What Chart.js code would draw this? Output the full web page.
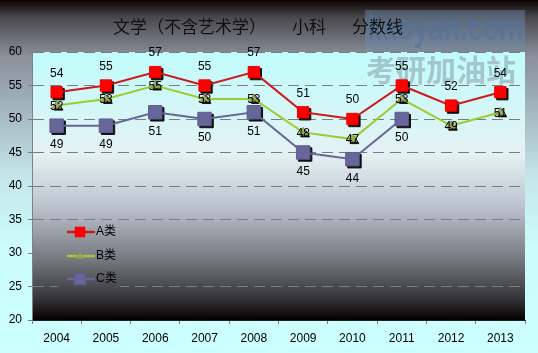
<!DOCTYPE html>
<html>
<head>
<meta charset="utf-8">
<script src="https://cdn.jsdelivr.net/npm/chart.js@4"></script>
<style>
  html, body { margin: 0; padding: 0; }
</style>
</head>
<body>
<canvas id="c" width="538" height="353"></canvas>
<script>
// 数据
const years = ['2004', '2005', '2006', '2007', '2008', '2009', '2010', '2011', '2012', '2013'];
const aScores = [54, 55, 57, 55, 57, 51, 50, 55, 52, 54];
const bScores = [52, 53, 55, 53, 53, 48, 47, 53, 49, 51];
const cScores = [49, 49, 51, 50, 51, 45, 44, 50, null, null];
const seriesNames = ['A类', 'B类', 'C类'];
const titleParts = ['文学（不含艺术学）', '小科', '分数线'];

const FONT = '"Liberation Sans", "Noto Sans CJK SC", sans-serif';
let plotGrad = null;

function makePlotGrad(ctx, area) {
  const g = ctx.createLinearGradient(0, area.top, 0, area.bottom);
  g.addColorStop(0, '#c0fcfc');
  g.addColorStop(0.38, '#e4f2f4');
  g.addColorStop(0.58, '#bcc2cc');
  g.addColorStop(0.78, '#74767e');
  g.addColorStop(0.92, '#343438');
  g.addColorStop(1, '#050000');
  return g;
}

// 背景
const bgPlugin = {
  id: 'bg',
  beforeDraw(chart) {
    const ctx = chart.ctx, a = chart.chartArea;
    const g = ctx.createLinearGradient(0, 0, 0, chart.height);
    g.addColorStop(0, '#0a0000');
    g.addColorStop(0.05, '#4a4a4e');
    g.addColorStop(0.16, '#8a909a');
    g.addColorStop(0.5, '#c4e6ea');
    g.addColorStop(0.7, '#ccfcfc');
    g.addColorStop(1, '#ccffff');
    ctx.save();
    ctx.fillStyle = g;
    ctx.fillRect(0, 0, chart.width, chart.height);
    plotGrad = makePlotGrad(ctx, a);
    ctx.fillStyle = plotGrad;
    ctx.fillRect(a.left, a.top, a.right - a.left, a.bottom - a.top);
    // 水印
    ctx.fillStyle = 'rgba(110,140,175,0.45)';
    ctx.fillRect(365, 10, 160, 40);
    ctx.textBaseline = 'middle';
    ctx.font = 'bold 36px ' + FONT;
    const w = ctx.measureText('kaoyan.com').width;
    ctx.save();
    ctx.translate(367, 30);
    ctx.scale(156 / w, 1);
    ctx.fillStyle = 'rgba(80,115,160,0.6)';
    ctx.fillText('kaoyan.com', 0, 0);
    ctx.restore();
    ctx.font = 'bold 30px "Noto Sans CJK SC", sans-serif';
    ctx.fillStyle = 'rgba(130,145,160,0.5)';
    ctx.fillText('考研加油站', 366, 70);
    // 标题
    ctx.fillStyle = '#111';
    ctx.font = '17px "Noto Sans CJK SC", sans-serif';
    ctx.fillText(titleParts[0], 113, 27);
    ctx.fillText(titleParts[1], 292, 27);
    ctx.fillText(titleParts[2], 352, 27);
    ctx.restore();
  }
};

// 点的阴影
const shadowPlugin = {
  id: 'shadow',
  beforeDatasetDraw(chart, args) {
    const ctx = chart.ctx;
    const ds = chart.data.datasets[args.index];
    ctx.save();
    ctx.fillStyle = '#101010';
    ctx.strokeStyle = '#101010';
    ctx.lineWidth = 1;
    args.meta.data.forEach((pt, j) => {
      if (ds.data[j] == null) return;
      Chart.helpers.drawPoint(ctx, { pointStyle: ds.pointStyle, radius: ds.pointRadius, borderWidth: 1 }, pt.x + 2, pt.y + 2);
    });
    ctx.restore();
  }
};

// 数值标签和图例
const labelPlugin = {
  id: 'labels',
  afterDatasetsDraw(chart) {
    const ctx = chart.ctx;
    const offsets = [-19, 1, 19];
    ctx.save();
    ctx.font = '12px ' + FONT;
    ctx.fillStyle = '#000';
    ctx.textAlign = 'center';
    ctx.textBaseline = 'middle';
    chart.data.datasets.forEach((ds, i) => {
      chart.getDatasetMeta(i).data.forEach((pt, j) => {
        const v = ds.data[j];
        if (v == null) return;
        ctx.fillText(String(v), pt.x, pt.y + offsets[i]);
      });
    });
    // 图例
    ctx.fillStyle = plotGrad;
    ctx.fillRect(58, 220, 62, 72);
    const ys = [232, 256, 279];
    chart.data.datasets.forEach((ds, i) => {
      const y = ys[i];
      ctx.strokeStyle = ds.borderColor;
      ctx.lineWidth = 2.5;
      ctx.beginPath();
      ctx.moveTo(67, y);
      ctx.lineTo(95, y);
      ctx.stroke();
      ctx.fillStyle = ds.pointBackgroundColor;
      ctx.strokeStyle = ds.pointBorderColor;
      ctx.lineWidth = 1;
      Chart.helpers.drawPoint(ctx, {
        pointStyle: ds.pointStyle,
        radius: ds.pointRadius * 0.85,
        borderWidth: 1
      }, 80, y);
      ctx.fillStyle = '#000';
      ctx.textAlign = 'left';
      ctx.fillText(ds.label, 96, y);
    });
    ctx.restore();
  }
};

new Chart(document.getElementById('c'), {
  type: 'line',
  data: {
    labels: years,
    datasets: [
      {
        label: seriesNames[0], data: aScores,
        borderColor: '#cc1a1a', borderWidth: 2,
        pointStyle: 'rect', pointRadius: 8,
        pointBackgroundColor: '#ff0000', pointBorderColor: '#ee0000', pointBorderWidth: 1
      },
      {
        label: seriesNames[1], data: bScores,
        borderColor: '#9ccc30', borderWidth: 2,
        pointStyle: 'triangle', pointRadius: 5,
        pointBackgroundColor: '#9aa860', pointBorderColor: '#8c9850', pointBorderWidth: 1
      },
      {
        label: seriesNames[2], data: cScores,
        borderColor: '#666699', borderWidth: 2,
        pointStyle: 'rect', pointRadius: 9.5,
        pointBackgroundColor: '#66669a', pointBorderColor: '#5c5c90', pointBorderWidth: 1
      }
    ]
  },
  options: {
    responsive: false,
    animation: false,
    devicePixelRatio: 1,
    layout: { padding: { top: 52, right: 13, left: 0, bottom: 0 } },
    plugins: {
      legend: { display: false },
      tooltip: { enabled: false }
    },
    scales: {
      x: {
        offset: true,
        afterFit(s) { s.height = 33; },
        grid: { offset: true, drawOnChartArea: false, color: '#808080', tickLength: 4 },
        border: { color: '#202020', width: 1 },
        ticks: { color: '#000', font: { size: 12, family: FONT }, padding: 7, maxRotation: 0 }
      },
      y: {
        min: 20, max: 60,
        afterFit(s) { s.width = 32; },
        grid: { color: '#7c7c80', lineWidth: 1, tickLength: 4 },
        border: { color: '#808080', width: 1, dash: [11, 6] },
        ticks: { stepSize: 5, color: '#000', font: { size: 12, family: FONT }, padding: 6 }
      }
    }
  },
  plugins: [bgPlugin, shadowPlugin, labelPlugin]
});
</script>
</body>
</html>
